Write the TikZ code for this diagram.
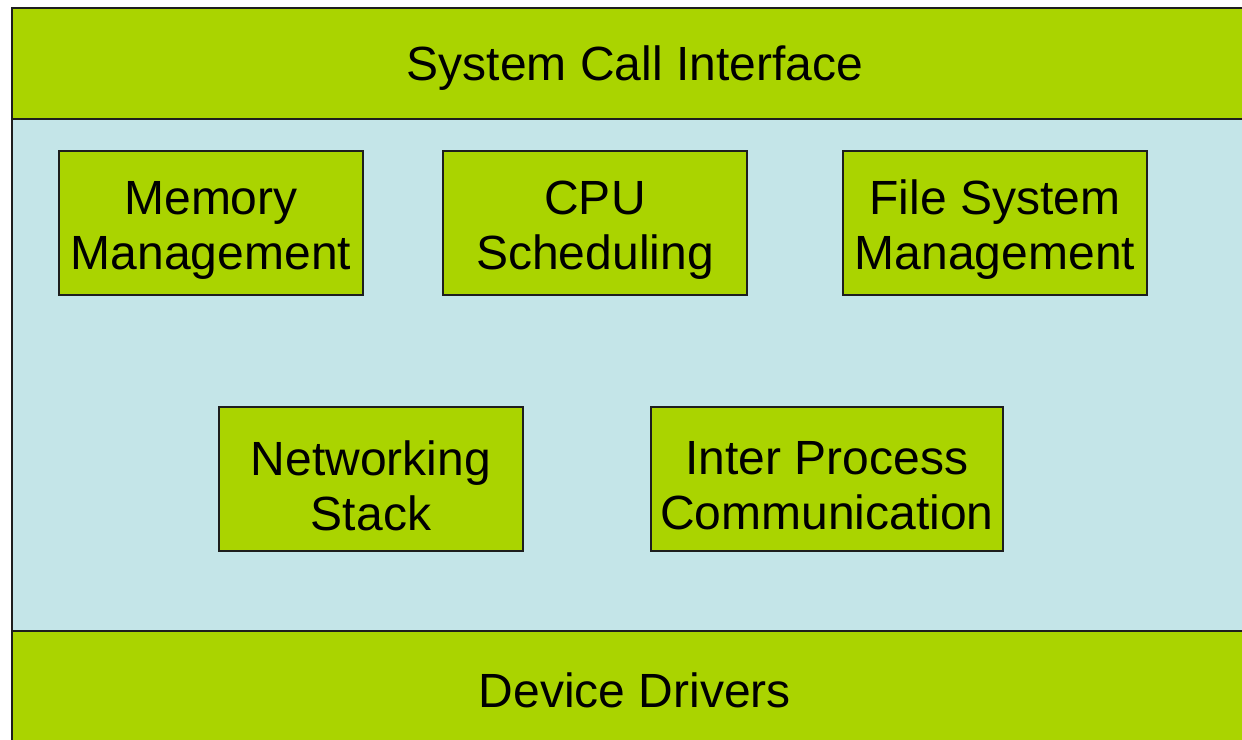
\documentclass[tikz,border=0pt]{standalone}
\usepackage{fontspec}
\setmainfont{Liberation Sans}
\definecolor{layergreen}{RGB}{170,212,0}
\definecolor{corebg}{RGB}{196,229,232}
\definecolor{edgegray}{RGB}{30,30,30}
\begin{document}
\begin{tikzpicture}[x=1pt,y=-1pt,
  band/.style={draw=edgegray,line width=2pt,fill=layergreen},
  core/.style={draw=edgegray,line width=2pt,fill=corebg},
  module/.style={draw=edgegray,line width=1.5pt,fill=layergreen,
    inner sep=0pt,minimum height=144pt},
  label/.style={font=\fontsize{48}{55}\selectfont,inner sep=0pt,align=center}]
\useasboundingbox (0,0) rectangle (1242,739);
\clip (0,0) rectangle (1242,739);
% kernel layers
\draw[core] (11.5,118.5) rectangle (1260,631);
\draw[band] (11.5,7.5) rectangle (1260,118.5);
\draw[band] (11.5,631) rectangle (1260,760);
\node[label] (sci) at (635,68) {System Call Interface};
\node[label] (dd) at (635,690) {Device Drivers};
% subsystems
\node[module,minimum width=304pt] (mm) at (211,223) {};
\node[module,minimum width=304pt] (cpu) at (595,223) {};
\node[module,minimum width=304pt] (fs) at (995,223) {};
\node[module,minimum width=304pt] (net) at (371,479) {};
\node[module,minimum width=352pt] (ipc) at (827,479) {};
\node[label] (mmt) at ([yshift=-7pt]mm.center) {Memory\\Management};
\node[label] (cput) at ([yshift=-7pt]cpu.center) {CPU\\Scheduling};
\node[label] (fst) at ([yshift=-7pt]fs.center) {File System\\Management};
\node[label] (nett) at ([yshift=-7pt]net.center) {Networking\\Stack};
\node[label] (ipct) at ([yshift=-7pt]ipc.center) {Inter Process\\Communication};
\end{tikzpicture}
\end{document}
